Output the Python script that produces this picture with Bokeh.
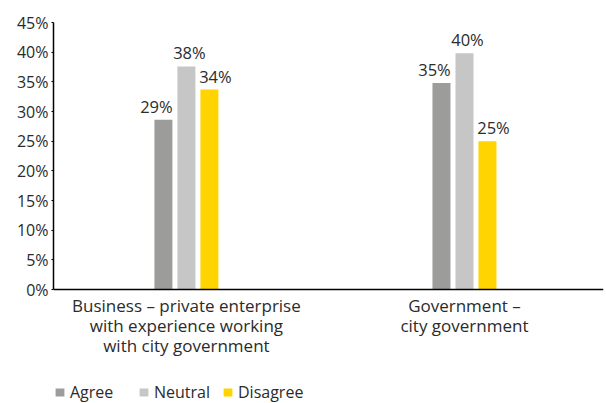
import numpy as np
from bokeh.plotting import figure
from bokeh.models import (ColumnDataSource, Range1d, FixedTicker, PrintfTickFormatter,
                          Legend, LegendItem, Span)
from bokeh.core.properties import value
from bokeh.embed import file_html
from bokeh.resources import INLINE

categories = ["Business \u2013 private enterprise\nwith experience working\nwith city government",
              "Government \u2013\ncity government"]
series = ["Agree", "Neutral", "Disagree"]
agree = [28.6, 34.8]
neutral = [37.6, 39.8]
disagree = [33.7, 25.0]
colors = ["#9c9c9a", "#c6c6c6", "#ffd400"]
label_shift = [-7, 3, 6]
y_ticks = [0, 5, 10, 15, 20, 25, 30, 35, 40, 45]

FONT = "Open Sans"
TXT = "#2b2b2b"

# the frame extends below 0 to hold the category labels and the legend
p = figure(frame_width=550, frame_height=381, output_backend="svg", toolbar_location=None,
           x_range=Range1d(-0.478, 1.5), y_range=Range1d(-19.2, 45),
           min_border_left=53, min_border_top=22, min_border_right=3,
           min_border_bottom=0, outline_line_color=None)
p.grid.visible = False
p.xaxis.visible = False

xs = np.arange(len(categories))
width = 0.0647
step = 0.0827
renderers = []
for i, (name, vals, col) in enumerate(zip(series, [agree, neutral, disagree], colors)):
    off = (i - 1) * step
    src = ColumnDataSource(dict(x=xs + off, top=vals,
                                lab=[f"{round(v)}%" for v in vals]))
    r = p.vbar(x="x", top="top", bottom=0, width=width, source=src,
               fill_color=col, line_color=None)
    renderers.append(r)
    p.text(x="x", y="top", text="lab", source=src, text_align="center",
           text_baseline="bottom", y_offset=-2, x_offset=label_shift[i],
           text_font=value(FONT), text_font_size="16.5px", text_color=TXT)

# x axis line at 0
p.add_layout(Span(location=0, dimension="width", line_color="black", line_width=1.5))

# category labels under the axis line
p.text(x=list(xs), y=[0] * len(xs), text=categories, y_offset=4, text_align="center",
       text_baseline="top", text_font=value(FONT), text_font_size="17px",
       text_color=TXT, text_line_height=0.87)

# y axis
p.yaxis.bounds = (0, 45)
p.yaxis.ticker = FixedTicker(ticks=y_ticks)
p.yaxis.formatter = PrintfTickFormatter(format="%d%%")
p.yaxis.major_label_text_font = FONT
p.yaxis.major_label_text_font_size = "16px"
p.yaxis.major_label_text_color = TXT
p.yaxis.axis_line_color = "black"
p.yaxis.axis_line_width = 1.5
p.yaxis.major_tick_out = 2
p.yaxis.major_tick_in = 0
p.yaxis.major_tick_line_color = "black"
p.yaxis.minor_tick_line_color = None
p.yaxis.major_label_standoff = 3

legend = Legend(items=[LegendItem(label=s, renderers=[r]) for s, r in zip(series, renderers)],
                orientation="horizontal", location=(1, 0),
                label_text_font=FONT, label_text_font_size="16px", label_text_color=TXT,
                glyph_width=11, glyph_height=10, label_standoff=5, label_width=58,
                spacing=10, padding=0, margin=0, border_line_color=None,
                background_fill_alpha=0)
p.add_layout(legend, "center")

open("out.html", "w").write(file_html(p, INLINE))
